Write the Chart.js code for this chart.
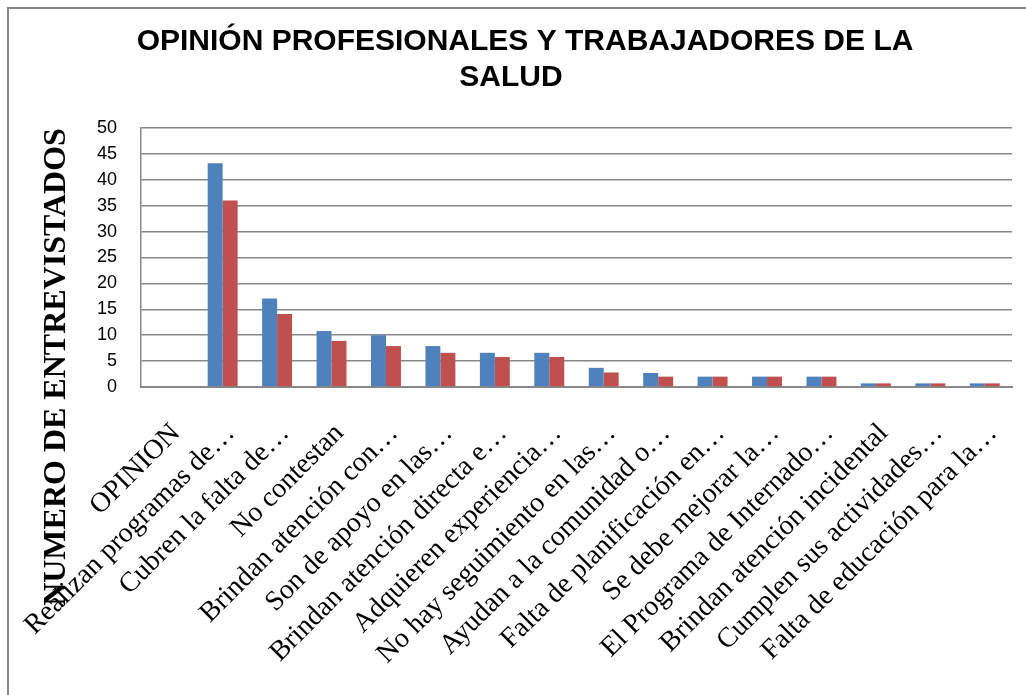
<!DOCTYPE html>
<html lang="es">
<head>
<meta charset="utf-8">
<title>Opinión profesionales y trabajadores de la salud</title>
<script src="https://cdn.jsdelivr.net/npm/chart.js@4.4.1/dist/chart.umd.min.js"></script>
<style>
  html, body { margin: 0; padding: 0; background: #fff; }
  #contenedor { position: relative; width: 1026px; height: 695px; }
</style>
</head>
<body>
<div id="contenedor">
  <canvas id="myChart" width="1026" height="695"></canvas>
</div>
<script>
const categorias = [
  "OPINION",
  "Realizan programas de…",
  "Cubren la falta de…",
  "No contestan",
  "Brindan atención con…",
  "Son de apoyo en las…",
  "Brindan atención directa e…",
  "Adquieren experiencia…",
  "No hay seguimiento en las…",
  "Ayudan a la comunidad o…",
  "Falta de planificación en…",
  "Se debe mejorar la…",
  "El Programa de Internado…",
  "Brindan atención incidental",
  "Cumplen sus actividades…",
  "Falta de educación para la…",
];

const serie1 = [0, 43.2, 17.1, 10.8, 10, 7.9, 6.6, 6.6, 3.7, 2.7, 2, 2, 2, 0.7, 0.7, 0.7];
const serie2 = [0, 36, 14.1, 8.9, 7.9, 6.6, 5.8, 5.8, 2.8, 2, 2, 2, 2, 0.7, 0.7, 0.7];

const ticksY = [0, 5, 10, 15, 20, 25, 30, 35, 40, 45, 50];

const titulo = ["OPINIÓN PROFESIONALES Y TRABAJADORES DE LA", "SALUD"];
const tituloEjeY = "NUMERO DE ENTREVISTADOS";

// marco gris, titulo en dos lineas y titulo vertical del eje
const marcoYTitulos = {
  id: "marcoYTitulos",
  beforeDraw(chart) {
    const { ctx } = chart;
    ctx.save();
    ctx.fillStyle = "#fff";
    ctx.fillRect(0, 0, chart.width, chart.height);
    ctx.strokeStyle = "#888";
    ctx.lineWidth = 2;
    ctx.beginPath();
    ctx.moveTo(8, chart.height);
    ctx.lineTo(8, 8);
    ctx.lineTo(chart.width, 8);
    ctx.stroke();
    ctx.restore();
  },
  afterDraw(chart) {
    const { ctx } = chart;
    ctx.save();
    ctx.fillStyle = "#000";
    ctx.textAlign = "center";
    ctx.textBaseline = "middle";

    ctx.font = "bold 30px 'Liberation Sans', Arial, sans-serif";
    ctx.fillText(titulo[0], 525, 42);
    ctx.fillText(titulo[1], 511, 78);

    ctx.translate(57, 367);
    ctx.rotate(-Math.PI / 2);
    ctx.font = "bold 32px 'Liberation Serif', 'Times New Roman', serif";
    ctx.fillText(tituloEjeY, 0, 0);
    ctx.restore();
  },
};

function pintarGrafico() {
  const ctx = document.getElementById("myChart");

  const cfg = {
    type: "bar",
    data: {
      labels: categorias,
      datasets: [
        {
          label: "Serie1",
          data: serie1,
          backgroundColor: "#4F81BD",
          categoryPercentage: 0.55,
          barPercentage: 1,
        },
        {
          label: "Serie2",
          data: serie2,
          backgroundColor: "#C0504D",
          categoryPercentage: 0.55,
          barPercentage: 1,
        },
      ],
    },
    options: {
      responsive: false,
      animation: false,
      layout: {
        padding: { left: 0, right: 14, top: 128, bottom: 0 },
      },
      plugins: {
        legend: { display: false },
        tooltip: { enabled: false },
        title: { display: false },
      },
      scales: {
        x: {
          grid: { display: false },
          border: { display: true, color: "#888", width: 2 },
          ticks: {
            autoSkip: false,
            minRotation: 45,
            maxRotation: 45,
            padding: 22,
            labelOffset: 8,
            color: "#000",
            font: { family: "'Liberation Serif', 'Times New Roman', serif", size: 28 },
          },
          afterFit(scale) {
            scale.height = 308;
            scale.paddingLeft = 0;
            scale.paddingRight = 0;
          },
        },
        y: {
          min: 0,
          max: 50,
          afterBuildTicks(scale) {
            scale.ticks = ticksY.map((v) => ({ value: v }));
          },
          grid: { color: "#888", lineWidth: 1.5, drawTicks: false },
          border: { display: true, color: "#888", width: 1.5 },
          ticks: {
            padding: 24,
            color: "#000",
            font: { family: "'Liberation Sans', Arial, sans-serif", size: 18 },
          },
          afterFit(scale) {
            scale.width = 141;
          },
        },
      },
    },
    plugins: [marcoYTitulos],
  };

  new Chart(ctx, cfg);
}

pintarGrafico();
</script>
</body>
</html>
